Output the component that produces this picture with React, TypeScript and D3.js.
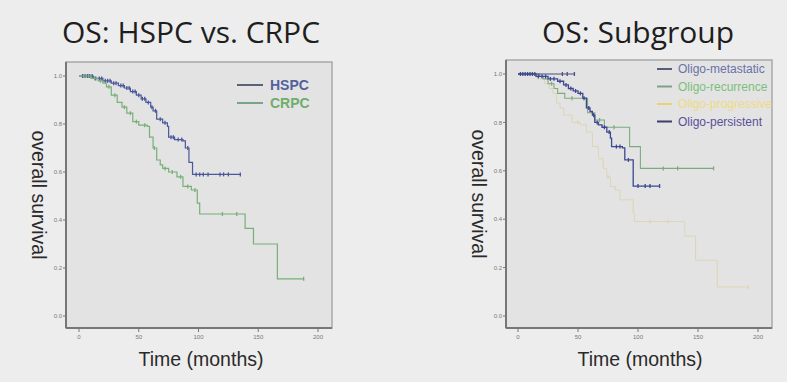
import React from "react";
import * as d3 from "d3";

// Axis ticks shared by both plots
const timeTicks = [0, 50, 100, 150, 200];
const survivalTicks = [0, 0.2, 0.4, 0.6, 0.8, 1.0];

// HSPC vs. CRPC (Kaplan-Meier steps: event time -> survival after the event)
const hspcTimes = [0, 12, 20, 27, 33, 38, 43, 48, 52, 56, 60, 62, 65, 70, 74, 75, 80, 87, 89, 92, 95];
const hspcSurv = [1, 0.99, 0.98, 0.97, 0.96, 0.95, 0.935, 0.92, 0.905, 0.89, 0.87, 0.855, 0.82, 0.805, 0.79, 0.745, 0.735, 0.73, 0.7, 0.64, 0.59];
const hspcEnd = 135;
const hspcCensored = [3, 5, 7, 9, 11, 14, 17, 19, 22, 24, 26, 29, 31, 35, 37, 40, 42, 45, 47, 50, 53, 55, 58, 61, 64, 68, 72, 77, 79, 83, 86, 91, 98, 101, 104, 108, 118, 121, 125, 135];

const crpcTimes = [0, 10, 16, 20, 23, 27, 32, 36, 40, 45, 50, 57, 59, 62, 65, 68, 70, 75, 82, 87, 94, 99, 101, 139, 146, 166];
const crpcSurv = [1, 0.99, 0.98, 0.97, 0.955, 0.92, 0.89, 0.87, 0.845, 0.81, 0.795, 0.79, 0.745, 0.7, 0.65, 0.63, 0.615, 0.6, 0.58, 0.54, 0.525, 0.47, 0.425, 0.365, 0.3, 0.155];
const crpcEnd = 188;
const crpcCensored = [4, 8, 13, 18, 25, 30, 38, 43, 48, 55, 63, 72, 78, 85, 91, 97, 120, 132, 188];

// Subgroups
const metaTimes = [0, 15, 25, 33, 38, 42, 46, 50, 54, 57, 60, 62, 64, 67, 70, 74, 77, 78, 87, 89, 96];
const metaSurv = [1, 0.99, 0.98, 0.97, 0.955, 0.94, 0.93, 0.92, 0.9, 0.86, 0.845, 0.83, 0.8, 0.79, 0.78, 0.76, 0.735, 0.7, 0.695, 0.645, 0.537];
const metaEnd = 118;
const metaCensored = [2, 4, 6, 8, 10, 12, 14, 17, 20, 23, 27, 30, 35, 40, 44, 48, 52, 55, 59, 63, 66, 72, 76, 82, 85, 92, 100, 106, 110, 118];

const recTimes = [0, 18, 21, 25, 30, 33, 39, 58, 64, 72, 93, 102];
const recSurv = [1, 0.99, 0.98, 0.96, 0.94, 0.92, 0.9, 0.84, 0.81, 0.78, 0.7, 0.61];
const recEnd = 163;
const recCensored = [28, 45, 68, 80, 121, 133, 163];

const progTimes = [0, 16, 22, 26, 29, 32, 35, 38, 45, 52, 57, 62, 67, 71, 74, 77, 81, 85, 96, 97, 139, 148, 166];
const progSurv = [1, 0.98, 0.96, 0.94, 0.92, 0.88, 0.86, 0.83, 0.8, 0.79, 0.76, 0.7, 0.65, 0.61, 0.575, 0.535, 0.52, 0.48, 0.425, 0.39, 0.33, 0.23, 0.12];
const progEnd = 192;
const progCensored = [50, 75, 110, 125, 192];

const persTimes = [0];
const persSurv = [1];
const persEnd = 47;
const persCensored = [37, 41, 47];

type Series = {
  name: string;
  times: number[];
  surv: number[];
  end: number;
  censored: number[];
  color: string;
  width: number;
  legendLine: string;
  legendText: string;
};

type PanelSpec = {
  title: string;
  titleX: number;
  frame: [number, number, number, number]; // left, top, right, bottom
  xRange: [number, number];
  yRange: [number, number];
  yLabelX: number;
  xLabelX: number;
  series: Series[];
  legendOrder: string[];
  legend: { lineX: [number, number]; textX: number; y0: number; step: number; size: number; bold: boolean };
};

const leftSeries: Series[] = [
  { name: "HSPC", times: hspcTimes, surv: hspcSurv, end: hspcEnd, censored: hspcCensored, color: "#4b579b", width: 1.2, legendLine: "#5b6178", legendText: "#56609c" },
  { name: "CRPC", times: crpcTimes, surv: crpcSurv, end: crpcEnd, censored: crpcCensored, color: "#78b078", width: 1.2, legendLine: "#7ba28a", legendText: "#6dae6d" },
];

const rightSeries: Series[] = [
  { name: "Oligo-progressive", times: progTimes, surv: progSurv, end: progEnd, censored: progCensored, color: "#dcd6b6", width: 1, legendLine: "#e9d27a", legendText: "#f0da84" },
  { name: "Oligo-recurrence", times: recTimes, surv: recSurv, end: recEnd, censored: recCensored, color: "#7faa80", width: 1.1, legendLine: "#80a08c", legendText: "#7cbf7c" },
  { name: "Oligo-metastatic", times: metaTimes, surv: metaSurv, end: metaEnd, censored: metaCensored, color: "#3d4890", width: 1.3, legendLine: "#575d78", legendText: "#6a72a8" },
  { name: "Oligo-persistent", times: persTimes, surv: persSurv, end: persEnd, censored: persCensored, color: "#4a4c86", width: 1.2, legendLine: "#3c3d6e", legendText: "#5a4f9c" },
];

const panels: PanelSpec[] = [
  {
    title: "OS: HSPC vs. CRPC",
    titleX: 191,
    frame: [66, 62, 332, 328],
    xRange: [79, 318],
    yRange: [316, 76],
    yLabelX: 32,
    xLabelX: 201,
    series: leftSeries,
    legendOrder: ["HSPC", "CRPC"],
    legend: { lineX: [237, 263], textX: 270, y0: 85, step: 18, size: 14, bold: true },
  },
  {
    title: "OS: Subgroup",
    titleX: 638,
    frame: [506, 60, 772, 328],
    xRange: [518, 758],
    yRange: [316, 74],
    yLabelX: 472,
    xLabelX: 640,
    series: rightSeries,
    legendOrder: ["Oligo-metastatic", "Oligo-recurrence", "Oligo-progressive", "Oligo-persistent"],
    legend: { lineX: [657, 672], textX: 678, y0: 69, step: 17.5, size: 12, bold: false },
  },
];

function survivalAt(s: Series, t: number) {
  let v = s.surv[0];
  for (let i = 0; i < s.times.length; i++) if (s.times[i] <= t) v = s.surv[i];
  return v;
}

function Panel({ p }: { p: PanelSpec }) {
  const x = d3.scaleLinear().domain([0, 200]).range(p.xRange);
  const y = d3.scaleLinear().domain([0, 1]).range(p.yRange);
  const line = d3
    .line<[number, number]>()
    .x((d) => x(d[0]))
    .y((d) => y(d[1]))
    .curve(d3.curveStepAfter);
  const [l, t, r, b] = p.frame;
  const legendItems = p.legendOrder.map((n) => p.series.find((s) => s.name === n)!);

  return (
    <g>
      <text
        x={p.titleX}
        y={43}
        textAnchor="middle"
        fontFamily="'Open Sans', sans-serif"
        fontSize={30}
        fill="#1e1e1e"
      >
        {p.title}
      </text>
      <rect x={l} y={t} width={r - l} height={b - t} fill="#e3e3e3" stroke="#a9a9a9" strokeWidth={1.5} />
      <line x1={l} x2={l} y1={t} y2={b} stroke="#777" strokeWidth={2} />
      <line x1={l} x2={r} y1={b} y2={b} stroke="#777" strokeWidth={2} />
      {survivalTicks.map((v) => (
        <g key={v}>
          <line x1={l - 3} x2={l} y1={y(v)} y2={y(v)} stroke="#777" strokeWidth={1} />
          <text
            x={l - 4}
            y={y(v)}
            dy="0.35em"
            textAnchor="end"
            fontFamily="'Liberation Sans', Arial, sans-serif"
            fontSize={6}
            fill="#777"
          >
            {v.toFixed(1)}
          </text>
        </g>
      ))}
      {timeTicks.map((v) => (
        <g key={v}>
          <line x1={x(v)} x2={x(v)} y1={b} y2={b + 4} stroke="#777" strokeWidth={1} />
          <text
            x={x(v)}
            y={339}
            textAnchor="middle"
            fontFamily="'Liberation Sans', Arial, sans-serif"
            fontSize={6}
            fill="#777"
          >
            {v}
          </text>
        </g>
      ))}
      {p.series.map((s) => {
        const pts: [number, number][] = s.times.map((tm, i) => [tm, s.surv[i]]);
        pts.push([s.end, s.surv[s.surv.length - 1]]);
        return (
          <g key={s.name}>
            <path d={line(pts) ?? ""} fill="none" stroke={s.color} strokeWidth={s.width} />
            {s.censored.map((c, i) => (
              <line
                key={i}
                x1={x(c)}
                x2={x(c)}
                y1={y(survivalAt(s, c)) - 2}
                y2={y(survivalAt(s, c)) + 2}
                stroke={s.color}
                strokeWidth={1.3}
              />
            ))}
          </g>
        );
      })}
      {legendItems.map((s, i) => {
        const ly = p.legend.y0 + i * p.legend.step;
        return (
          <g key={s.name}>
            <line x1={p.legend.lineX[0]} x2={p.legend.lineX[1]} y1={ly} y2={ly} stroke={s.legendLine} strokeWidth={2} />
            <text
              x={p.legend.textX}
              y={ly}
              dy="0.36em"
              fontFamily="'Liberation Sans', Arial, sans-serif"
              fontSize={p.legend.size}
              fontWeight={p.legend.bold ? "bold" : "normal"}
              fill={s.legendText}
            >
              {s.name}
            </text>
          </g>
        );
      })}
      <text
        transform={`translate(${p.yLabelX},${(t + b) / 2}) rotate(90)`}
        textAnchor="middle"
        fontFamily="'Liberation Sans', Arial, sans-serif"
        fontSize={19.5}
        fill="#2a2a2a"
      >
        overall survival
      </text>
      <text
        x={p.xLabelX}
        y={366}
        textAnchor="middle"
        fontFamily="'Liberation Sans', Arial, sans-serif"
        fontSize={19.5}
        fill="#2a2a2a"
      >
        Time (months)
      </text>
    </g>
  );
}

export default function App() {
  return (
    <svg
      width={787}
      height={382}
      style={{ position: "absolute", left: 0, top: 0, display: "block" }}
    >
      <rect width={787} height={382} fill="#ededed" />
      {panels.map((p) => (
        <Panel key={p.title} p={p} />
      ))}
    </svg>
  );
}
